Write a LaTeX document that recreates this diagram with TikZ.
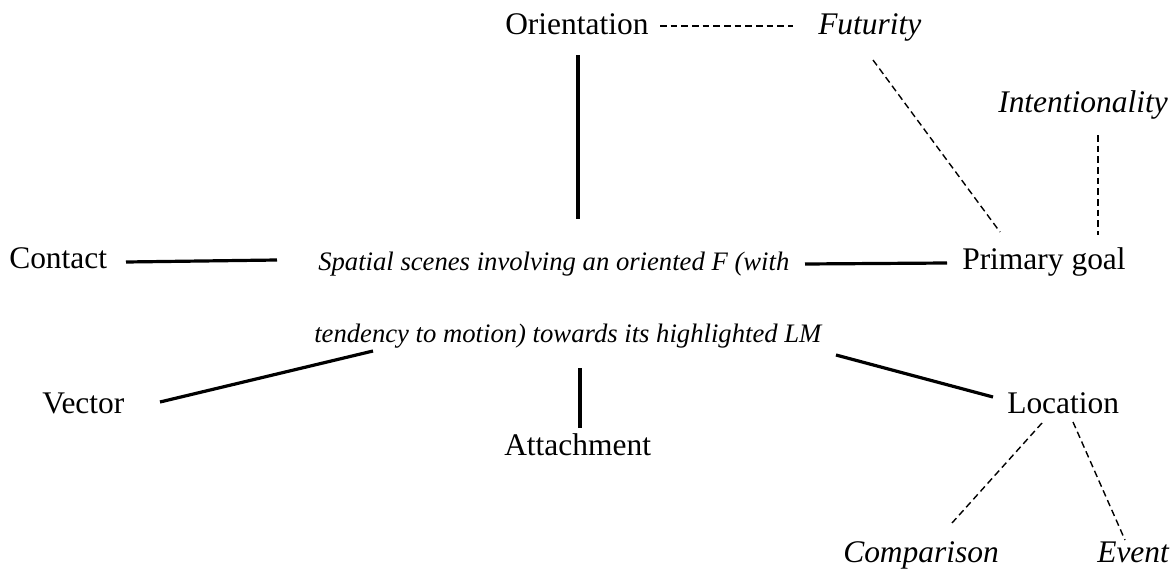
\documentclass[tikz,border=0pt]{standalone}
\usepackage{fontspec}
\setmainfont{Liberation Serif}
\usetikzlibrary{calc}

\begin{document}
\begin{tikzpicture}[x=0.75pt,y=-0.75pt]
    \tikzset{term/.style = {inner sep=0pt,anchor=base west,font=\fontsize{23.6}{28}\selectfont}}
    \tikzset{sense/.style = {term,font=\fontsize{23.6}{28}\selectfont\itshape}}
    \tikzset{core/.style = {inner sep=0pt,anchor=base west,font=\fontsize{20}{24}\selectfont\itshape}}
    \tikzset{link/.style = {line width=2.4pt}}
    \tikzset{hint/.style = {line width=1.05pt,dash pattern=on 5pt off 3pt}}
    \useasboundingbox (0,0) rectangle (1172,571);

    % central scene, set as two lines
    \node[core] (scene) at (318,270) {Spatial scenes involving an oriented F (with};
    \node[core] (tail) at (314,342) {tendency to motion) towards its highlighted LM};

    % senses around it
    \node[term] (orient) at (505,35) {Orientation};
    \node[term] (contact) at (9,268) {Contact};
    \node[term] (prim) at (962,269) {Primary goal};
    \node[term] (vector) at (42,413) {Vector};
    \node[term] (attach) at (504,455) {Attachment};
    \node[term] (location) at (1007,413) {Location};

    % extended meanings
    \node[sense] (futur) at (818,35) {Futurity};
    \node[sense] (intent) at (998,112) {Intentionality};
    \node[sense] (compar) at (843,562) {Comparison};
    \node[sense] (event) at (1097,562) {Event};

    % solid links to the scene
    \draw[link] ($(orient.base west)+(73,20)$) -- ($(scene.base west)+(260,-51)$);
    \draw[link] ($(contact.base west)+(117,-6)$) -- ($(scene.base west)+(-41,-10)$);
    \draw[link] ($(scene.base west)+(487,-6)$) -- ($(prim.base west)+(-15,-6)$);
    \draw[link] ($(tail.base west)+(59,9)$) -- ($(vector.base west)+(118,-11)$);
    \draw[link] ($(tail.base west)+(266,26)$) -- ($(attach.base west)+(76,-27)$);
    \draw[link] ($(tail.base west)+(522,13)$) -- ($(location.base west)+(-14,-16)$);

    % dashed links
    \draw[hint] ($(orient.base west)+(155,-9)$) -- ($(futur.base west)+(-25,-9)$);
    \draw[hint] ($(futur.base west)+(55,25)$) -- ($(prim.base west)+(38,-37)$);
    \draw[hint] ($(intent.base west)+(100,23)$) -- ($(prim.base west)+(136,-34)$);
    \draw[hint] ($(location.base west)+(35,10)$) -- ($(compar.base west)+(109,-39)$);
    \draw[hint] ($(location.base west)+(66,9)$) -- ($(event.base west)+(28,-22)$);
\end{tikzpicture}
\end{document}
